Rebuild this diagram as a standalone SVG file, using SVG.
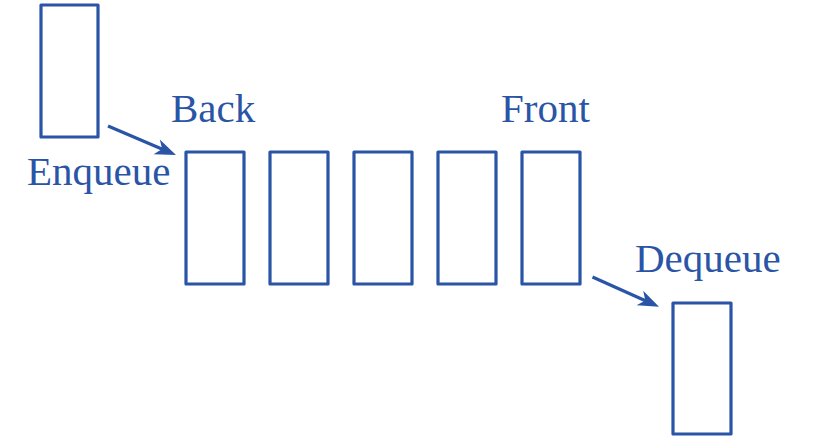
<svg xmlns="http://www.w3.org/2000/svg" width="815" height="439" viewBox="0 0 815 439">
<style>
.box{fill:none;stroke:#2a55a6;stroke-width:3.2;stroke-linejoin:round}
.lbl{font-family:"Liberation Serif",serif;font-size:41px;fill:#2a55a6}
.conn{stroke:#2a55a6;stroke-width:3.2;fill:none}
.head{fill:#2a55a6}
</style>
<rect width="815" height="439" fill="#ffffff"/>
<g id="incoming"><rect class="box" x="41" y="5" width="57" height="132"/></g>
<g id="q1"><rect class="box" x="186" y="152" width="58" height="132"/></g>
<g id="q2"><rect class="box" x="270" y="152" width="58" height="132"/></g>
<g id="q3"><rect class="box" x="354" y="152" width="58" height="132"/></g>
<g id="q4"><rect class="box" x="438" y="152" width="58" height="132"/></g>
<g id="q5"><rect class="box" x="522" y="152" width="58" height="132"/></g>
<g id="outgoing"><rect class="box" x="673" y="303" width="58" height="131"/></g>
<g id="labels">
<text class="lbl" x="171" y="122">Back</text>
<text class="lbl" x="501" y="122">Front</text>
<text class="lbl" x="27" y="185">Enqueue</text>
<text class="lbl" x="635" y="272">Dequeue</text>
</g>
<g id="connectors">
<line class="conn" x1="108" y1="126" x2="163" y2="149.5"/>
<path class="head" d="M176,155 L153.6,154.2 L162.2,149.1 L159.8,139.4 Z"/>
<line class="conn" x1="592.5" y1="277" x2="646" y2="301"/>
<path class="head" d="M659,306.7 L636.6,305.3 L645.3,300.5 L643.2,290.7 Z"/>
</g>
</svg>
